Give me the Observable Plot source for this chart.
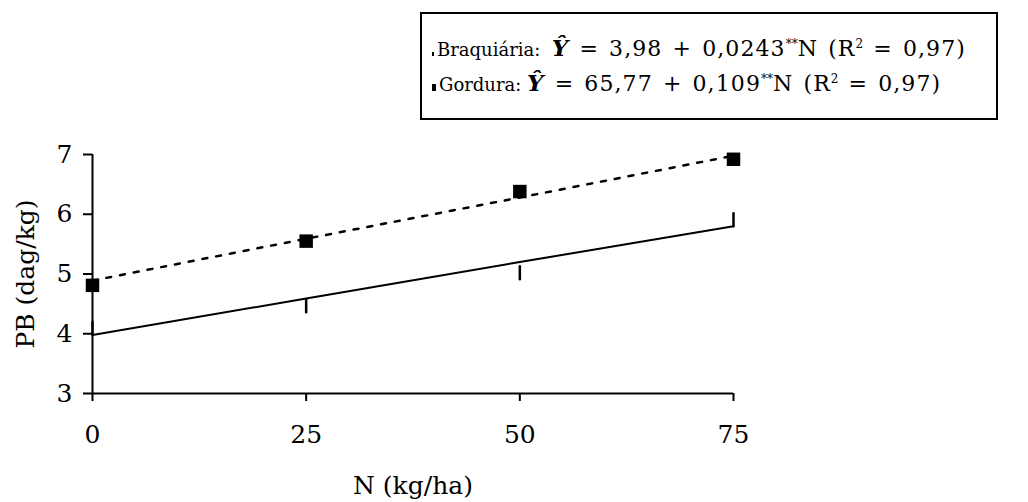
<!DOCTYPE html>
<html>
<head>
<meta charset="utf-8">
<script src="https://cdn.jsdelivr.net/npm/d3@7"></script>
<script src="https://cdn.jsdelivr.net/npm/@observablehq/plot@0.6"></script>
<style>
  html, body { margin: 0; padding: 0; background: #fff; }
  #wrap { position: relative; width: 1028px; height: 502px; font-family: "DejaVu Serif", serif; }
  #chart svg g[aria-label="x-axis tick label"] text,
  #chart svg g[aria-label="y-axis tick label"] text { font-size: 25px !important; }
  #legend {
    position: absolute; left: 420px; top: 12px; width: 578px; height: 108px;
    border: 2px solid #000; box-sizing: border-box; background: #fff;
    color: #000;
  }
  #legend .row { position: absolute; left: 10px; white-space: pre; line-height: 24px; }
  #legend .name { font-size: 18px; }
  #legend .eq { font-size: 22px; letter-spacing: 1.1px; word-spacing: 2px; }
  #legend .yhat { font-style: italic; font-weight: bold; font-size: 23px; }
  #legend sup { font-size: 12px; vertical-align: 8px; line-height: 0; letter-spacing: 0; }
  .mk { display: inline-block; background: #000; vertical-align: baseline; margin-right: 3px; }
</style>
</head>
<body>
<div id="wrap">
  <div id="chart"></div>
  <div id="legend">
    <div class="row" style="top:22px"><span class="mk" style="width:2px;height:4px"></span><span class="name">Braquiária:  </span><span class="eq"><span class="yhat">Ŷ</span> = 3,98 + 0,0243<sup>**</sup>N (R<sup>2</sup> = 0,97)</span></div>
    <div class="row" style="top:57px"><span class="mk" style="width:4px;height:7px"></span><span class="name">Gordura: </span><span class="eq"><span class="yhat">Ŷ</span> = 65,77 + 0,109<sup>**</sup>N (R<sup>2</sup> = 0,97)</span></div>
  </div>
</div>
<script>
// Nitrogen doses (kg/ha)
const nLevels = [0, 25, 50, 75];
// Crude protein (dag/kg), Braquiária: observed means and fitted line
const braqObs = [4.09, 4.47, 5.02, 5.91];
const braqFit = [3.98, 4.59, 5.20, 5.80];
// Crude protein (dag/kg), Gordura: observed means and fitted line
const gordObs = [4.81, 5.55, 6.38, 6.92];
const gordFit = [4.89, 5.59, 6.28, 6.98];
const yTicks = [3, 4, 5, 6, 7];

const rows = (ys) => nLevels.map((n, i) => ({n, y: ys[i]}));

// short vertical stroke used as the Braquiária point marker
const stroke = {
  draw(context, l) {
    context.moveTo(0, 0);
    context.lineTo(0, -l);
  }
};

const chart = Plot.plot({
  width: 1028,
  height: 502,
  marginLeft: 92,
  marginRight: 295,
  marginTop: 154,
  marginBottom: 109,
  style: {fontFamily: "'DejaVu Serif', serif", fontSize: "25px", color: "#000", background: "#fff"},
  x: {domain: [0, 75]},
  y: {domain: [3, 7]},
  marks: [
    Plot.axisX({ticks: nLevels, tickSize: 8, tickPadding: 24, strokeWidth: 2, tickFormat: d => String(d),
      label: null, fontSize: 25}),
    Plot.axisX({ticks: [], label: "N (kg/ha)", labelAnchor: "center", labelArrow: "none", labelOffset: 100, fontSize: 25}),
    Plot.axisY({ticks: yTicks, tickSize: 9, tickPadding: 11, strokeWidth: 2, tickFormat: d => String(d),
      label: null, fontSize: 25}),
    Plot.axisY({ticks: [], label: "PB (dag/kg)", labelAnchor: "center", labelArrow: "none", labelOffset: 76, fontSize: 25}),
    Plot.ruleX([0], {stroke: "#000", strokeWidth: 2}),
    Plot.ruleY([3], {stroke: "#000", strokeWidth: 2}),
    Plot.line(rows(braqFit), {x: "n", y: "y", stroke: "#000", strokeWidth: 2}),
    Plot.line(rows(gordFit), {x: "n", y: "y", stroke: "#000", strokeWidth: 2.5, strokeDasharray: "5,9"}),
    Plot.vector(rows(braqObs), {x: "n", y: "y", length: 13, rotate: 0, anchor: "middle", shape: stroke, stroke: "#000", strokeWidth: 2.5}),
    Plot.dot(rows(gordObs), {x: "n", y: "y", symbol: "square", r: 7.6, fill: "#000", stroke: "none"})
  ]
});
document.getElementById("chart").appendChild(chart);
</script>
</body>
</html>
